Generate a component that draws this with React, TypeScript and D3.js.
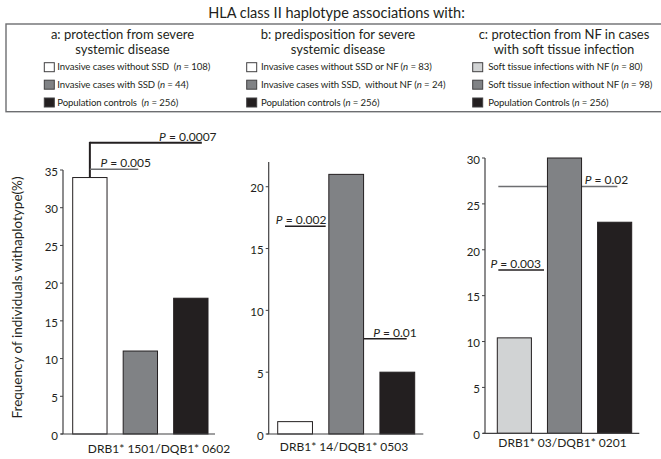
import React from 'react';
import * as d3 from 'd3';

// ---------- data ----------
const title = 'HLA class II haplotype associations with:';
const panelHeads1 = ['a: protection from severe', 'b: predisposition for severe', 'c: protection from NF in cases'];
const panelHeads2 = ['systemic disease', 'systemic disease', 'with soft tissue infection'];
const legendLabelsA = ['Invasive cases without SSD  ', 'Invasive cases with SSD ', 'Population controls  '];
const legendNA = [108, 44, 256];
const legendLabelsB = ['Invasive cases without SSD or NF ', 'Invasive cases with SSD,  without NF ', 'Population controls '];
const legendNB = [83, 24, 256];
const legendLabelsC = ['Soft tissue infections with NF ', 'Soft tissue infection without NF ', 'Population Controls '];
const legendNC = [80, 98, 256];
const categories = ['DRB1* 1501/DQB1* 0602', 'DRB1* 14/DQB1* 0503', 'DRB1* 03/DQB1* 0201'];
const valuesA = [34, 11, 18];
const valuesB = [1, 21, 5];
const valuesC = [10.4, 30, 23];
const yMaxes = [35, 22, 30];
const ticksA = [0, 5, 10, 15, 20, 25, 30, 35];
const ticksB = [0, 5, 10, 15, 20];
const ticksC = [0, 5, 10, 15, 20, 25, 30];
const yAxisLabel = 'Frequency of individuals withaplotype(%)';

// significance annotations
const sigPanel = [0, 0, 1, 1, 2, 2];
const sigLabels = ['0.0007', '0.005', '0.002', '0.01', '0.02', '0.003'];
const sigValues = [38.6, 35.1, 16.8, 7.7, 26.9, 17.8];

// ---------- layout / style ----------
const FONT = "Lato, 'Open Sans', sans-serif";
const W = 661, H = 459;
const panelLayout = [
  { axisX: 63, y0: 434, yTop: 170, barL: 72.7, barR: 208, xEnd: 215, labelX: 159, labelY: 453 },
  { axisX: 268.7, y0: 434, yTop: 162, barL: 277.7, barR: 414.7, xEnd: 423.3, labelX: 344, labelY: 451 },
  { axisX: 485, y0: 433.3, yTop: 158, barL: 497.3, barR: 631.7, xEnd: 639.3, labelX: 562.5, labelY: 447 },
];
const fills = [
  ['#ffffff', '#808285', '#231f20'],
  ['#ffffff', '#808285', '#231f20'],
  ['#d1d3d4', '#808285', '#231f20'],
];
// x positions given as [bar index, fraction of bandwidth]
const sigLayout = [
  { x1: [0, 0.5], x2: [2, 0.82], tx: [2, 1.25], color: '#231f20', sw: 2, drop: true, under: false },
  { x1: [0, 0.5], x2: [1, 0.44], tx: [1, 0.81], color: '#6d6e71', sw: 1.5, drop: false, under: false },
  { x1: [0, 0.21], x2: [0, 1.38], tx: [0, 1.40], color: '#231f20', sw: 1.5, drop: false, under: false },
  { x1: [1, 1.01], x2: [2, 0.77], tx: [2, 1.06], color: '#231f20', sw: 1.5, drop: false, under: false },
  { x1: [0, 0.03], x2: [2, 0.58], tx: [2, 0.90], color: '#6d6e71', sw: 1.5, drop: false, under: true },
  { x1: [0, 0.03], x2: [0, 1.37], tx: [0, 1.28], color: '#231f20', sw: 1.5, drop: false, under: false },
];
const legendCols = [
  { swX: 44.3, txX: 57.3, headX: 122.5 },
  { swX: 246.7, txX: 261, headX: 338 },
  { swX: 472.7, txX: 488.3, headX: 564 },
];
const legendRowY = [67.2, 84.7, 102.5];

const panelValues = [valuesA, valuesB, valuesC];
const panelTicks = [ticksA, ticksB, ticksC];
const legendLabels = [legendLabelsA, legendLabelsB, legendLabelsC];
const legendNs = [legendNA, legendNB, legendNC];

function Panel({ p }: { p: number }) {
  const L = panelLayout[p];
  const vals = panelValues[p];
  const y = d3.scaleLinear().domain([0, yMaxes[p]]).range([L.y0, L.yTop]);
  const x = d3.scaleBand<number>().domain([0, 1, 2]).range([L.barL, L.barR]).paddingInner(0.32).paddingOuter(0);
  const bw = x.bandwidth();
  const xp = (a: number[]) => (x(a[0]) as number) + a[1] * bw;
  const sigs = sigPanel.map((sp, i) => ({ sp, i })).filter(d => d.sp === p);

  const sigEl = (i: number) => {
    const S = sigLayout[i];
    const ly = y(sigValues[i]);
    return (
      <g key={'sig' + i}>
        <line x1={xp(S.x1)} x2={xp(S.x2)} y1={ly} y2={ly} stroke={S.color} strokeWidth={S.sw} />
        {S.drop && (
          <line x1={xp(S.x1)} x2={xp(S.x1)} y1={ly - S.sw / 2} y2={y(vals[0])} stroke={S.color} strokeWidth={S.sw} />
        )}
        <text x={xp(S.tx)} y={ly - 2} textAnchor="end" fontSize={12} fontFamily={FONT} fill="#231f20">
          <tspan fontStyle="italic">P</tspan> = {sigLabels[i]}
        </text>
      </g>
    );
  };

  return (
    <g>
      {sigs.filter(d => sigLayout[d.i].under).map(d => sigEl(d.i))}
      {vals.map((v, i) => (
        <rect key={i} x={x(i)} y={y(v)} width={bw} height={L.y0 - y(v)} fill={fills[p][i]} stroke="#231f20" strokeWidth={1} />
      ))}
      {sigs.filter(d => !sigLayout[d.i].under).map(d => sigEl(d.i))}
      <line x1={L.axisX} x2={L.axisX} y1={L.y0} y2={L.yTop} stroke="#414042" strokeWidth={1.2} />
      <line x1={L.axisX - 2} x2={L.xEnd} y1={L.y0} y2={L.y0} stroke="#414042" strokeWidth={1.2} />
      {panelTicks[p].map(t => (
        <g key={t}>
          <line x1={L.axisX - 3} x2={L.axisX} y1={y(t)} y2={y(t)} stroke="#414042" strokeWidth={1} />
          <text x={L.axisX - 5} y={y(t)} dy="0.5em" textAnchor="end" fontSize={11.5} fontFamily={FONT} fill="#231f20">{t}</text>
        </g>
      ))}
      <text x={L.labelX} y={L.labelY} textAnchor="middle" fontSize={12} fontFamily={FONT} fill="#231f20">{categories[p]}</text>
    </g>
  );
}

export default function App() {
  return (
    <svg width={W} height={H} style={{ position: 'absolute', left: 0, top: 0, background: '#fff' }}>
      <rect x={0} y={0} width={W} height={H} fill="#fff" />
      <text x={336.5} y={17.5} textAnchor="middle" fontSize={14.5} fontFamily={FONT} fill="#231f20">{title}</text>
      <rect x={6} y={24} width={662} height={87.7} fill="none" stroke="#6d6e71" strokeWidth={1.4} />
      {legendCols.map((c, p) => (
        <g key={p}>
          <text x={c.headX} y={39} textAnchor="middle" fontSize={13} fontFamily={FONT} fill="#231f20">{panelHeads1[p]}</text>
          <text x={c.headX} y={53.5} textAnchor="middle" fontSize={13} fontFamily={FONT} fill="#231f20">{panelHeads2[p]}</text>
          {legendLabels[p].map((lab, i) => (
            <g key={i}>
              <rect x={c.swX} y={legendRowY[i] - 4.5} width={10} height={9} fill={fills[p][i]} stroke="#414042" strokeWidth={1} />
              <text x={c.txX} y={legendRowY[i] + 3.2} fontSize={9.6} letterSpacing={-0.1} fontFamily={FONT} fill="#231f20" style={{ whiteSpace: 'pre' }}>
                {lab}(<tspan fontStyle="italic">n</tspan> = {legendNs[p][i]})
              </text>
            </g>
          ))}
        </g>
      ))}
      {[0, 1, 2].map(p => <Panel key={p} p={p} />)}
      <text transform="translate(22,297.5) rotate(-90)" textAnchor="middle" fontSize={13.5} fontFamily={FONT} fill="#231f20">{yAxisLabel}</text>
    </svg>
  );
}
